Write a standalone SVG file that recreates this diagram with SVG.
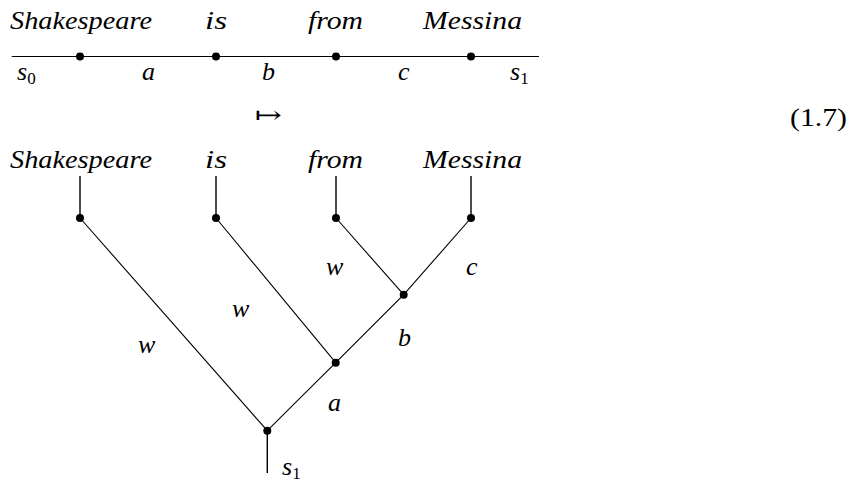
<svg xmlns="http://www.w3.org/2000/svg" width="858" height="483" viewBox="0 0 858 483">
<style>
.t{font-family:"Liberation Serif","DejaVu Serif",serif;font-style:italic;font-size:26px;fill:#000}
.sub{font-style:normal;font-size:17px}
.n{font-family:"Liberation Serif","DejaVu Serif",serif;font-size:25px;fill:#000}
.ln{stroke:#000;stroke-width:1.1;fill:none}
.lv{stroke:#000;stroke-width:1.4;fill:none}
.dot{fill:#000}
</style>
<rect width="858" height="483" fill="#fff"/>
<g id="connectors">
<path class="ln" d="M11.7 56.5 H539"/>
<path class="lv" d="M80 176 V218 M216 176 V218 M336 176 V218 M471 176 V218"/>
<path class="ln" d="M80 218 L267.3 430.7 M216 218 L335.7 362.7 M336 218 L403.7 294.7 M471 218 L403.7 294.7 L335.7 362.7 L267.3 430.7"/>
<path class="lv" d="M267.3 430.7 V473"/>
</g>
<g id="top-row">
<text class="t" x="10" y="29" textLength="142" lengthAdjust="spacingAndGlyphs">Shakespeare</text>
<text class="t" x="205" y="29" textLength="22" lengthAdjust="spacingAndGlyphs">is</text>
<text class="t" x="308" y="29" textLength="55" lengthAdjust="spacingAndGlyphs">from</text>
<text class="t" x="423" y="29" textLength="99" lengthAdjust="spacingAndGlyphs">Messina</text>
<circle id="t1" class="dot" cx="80" cy="56.5" r="4"/>
<circle id="t2" class="dot" cx="216" cy="56.5" r="4"/>
<circle id="t3" class="dot" cx="336" cy="56.5" r="4"/>
<circle id="t4" class="dot" cx="471" cy="56.5" r="4"/>
<text class="t" x="17" y="80">s<tspan class="sub" dy="4">0</tspan></text>
<text class="t" x="142" y="80">a</text>
<text class="t" x="262" y="80">b</text>
<text class="t" x="398" y="80">c</text>
<text class="t" x="510" y="80">s<tspan class="sub" dy="4">1</tspan></text>
</g>
<text id="mapsto" x="255" y="123" font-family="DejaVu Serif, serif" font-size="24" textLength="27" lengthAdjust="spacingAndGlyphs">↦</text>
<text id="eqnum" class="n" x="790" y="126" textLength="57" lengthAdjust="spacingAndGlyphs">(1.7)</text>
<g id="leaf-shakespeare">
<text class="t" x="10" y="168" textLength="142" lengthAdjust="spacingAndGlyphs">Shakespeare</text>
<circle class="dot" cx="80" cy="218" r="4"/>
</g>
<g id="leaf-is">
<text class="t" x="205" y="168" textLength="22" lengthAdjust="spacingAndGlyphs">is</text>
<circle class="dot" cx="216" cy="218" r="4"/>
</g>
<g id="leaf-from">
<text class="t" x="308" y="168" textLength="55" lengthAdjust="spacingAndGlyphs">from</text>
<circle class="dot" cx="336" cy="218" r="4"/>
</g>
<g id="leaf-messina">
<text class="t" x="423" y="168" textLength="99" lengthAdjust="spacingAndGlyphs">Messina</text>
<circle class="dot" cx="471" cy="218" r="4"/>
</g>
<g id="node-b"><circle class="dot" cx="403.7" cy="294.7" r="4"/></g>
<g id="node-a"><circle class="dot" cx="335.7" cy="362.7" r="4"/></g>
<g id="node-root"><circle class="dot" cx="267.3" cy="430.7" r="4"/></g>
<g id="edge-labels">
<text class="t" x="326" y="275">w</text>
<text class="t" x="466" y="275">c</text>
<text class="t" x="232" y="317">w</text>
<text class="t" x="398" y="346">b</text>
<text class="t" x="138" y="353">w</text>
<text class="t" x="328" y="411">a</text>
<text class="t" x="282" y="475">s<tspan class="sub" dy="4">1</tspan></text>
</g>
</svg>
